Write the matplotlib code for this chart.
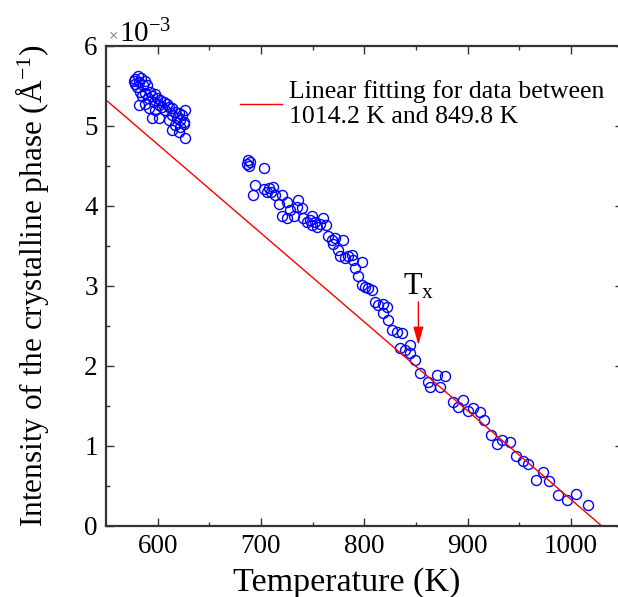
import matplotlib
matplotlib.use("Agg")
import matplotlib.pyplot as plt
import numpy as np

plt.rcParams["font.family"] = ["Liberation Serif", "DejaVu Serif"]
plt.rcParams["mathtext.default"] = "regular"

# measured points: temperature (K) and intensity (units of 1e-3 / Angstrom)
temp = [
    577.7, 581.0, 584.2, 587.4, 578.4, 582.2, 576.8, 585.5, 580.0, 589.7,
    583.2, 588.0, 592.9, 597.1, 584.8, 590.6, 594.5, 599.3, 602.6, 605.8,
    609.0, 604.2, 610.6, 613.8, 607.4, 600.9, 596.1, 588.0, 581.6, 591.3,
    597.7, 617.1, 620.3, 623.5, 626.7, 613.8, 618.7, 621.9, 625.1, 594.5,
    600.9, 617.1, 621.9, 625.1, 613.8, 620.3, 626.1, 610.6,
    687.3, 689.6, 686.3, 688.6, 702.5, 694.4, 691.8, 703.4, 707.3, 711.2,
    705.7, 709.9, 713.7, 720.2, 717.0, 725.0, 728.2, 736.3, 734.7, 739.5,
    720.2, 725.0, 731.5, 741.1, 744.4, 747.6, 749.2,
    749.2, 752.4, 754.0, 757.2, 760.5, 763.0, 765.3, 768.5, 771.8, 779.2,
    770.1, 775.0, 776.6, 781.4, 784.6, 787.9, 789.5, 791.1, 797.5, 794.3,
    797.5, 800.7, 804.0, 807.2, 810.4, 813.6, 818.5, 821.7, 818.5, 823.3,
    826.5, 831.4, 836.2, 834.6, 839.4, 844.3,
    844.3, 849.1, 854.0, 861.7, 863.6, 870.4, 873.3, 878.1,
    885.7, 895.5, 890.2, 900.0, 905.2, 911.7, 916.2, 922.8, 928.0, 933.6,
    941.0, 946.6, 953.1, 958.6, 966.2, 972.6, 979.1, 987.9, 996.4, 1005.2,
    1016.0,
]
intensity = [
    5.59, 5.62, 5.60, 5.56, 5.53, 5.55, 5.56, 5.51, 5.49, 5.51,
    5.43, 5.41, 5.43, 5.40, 5.37, 5.35, 5.37, 5.35, 5.33, 5.30,
    5.28, 5.24, 5.24, 5.22, 5.20, 5.26, 5.30, 5.28, 5.26, 5.22,
    5.20, 5.18, 5.16, 5.14, 5.20, 5.14, 5.10, 5.08, 5.05, 5.10,
    5.10, 5.01, 4.99, 5.02, 4.95, 4.93, 4.85, 5.08,
    4.58, 4.55, 4.53, 4.50, 4.47, 4.26, 4.14, 4.21, 4.22, 4.24,
    4.18, 4.17, 4.14, 4.14, 4.03, 4.05, 3.95, 4.08, 3.99, 3.97,
    3.87, 3.85, 3.87, 3.85, 3.80, 3.83, 3.76,
    3.87, 3.80, 3.74, 3.78, 3.85, 3.76, 3.62, 3.58, 3.60, 3.58,
    3.53, 3.45, 3.37, 3.35, 3.37, 3.39, 3.32, 3.22, 3.30, 3.12,
    3.01, 2.99, 2.97, 2.95, 2.80, 2.76, 2.78, 2.74, 2.66, 2.58,
    2.45, 2.43, 2.41, 2.22, 2.20, 2.26,
    2.16, 2.08, 1.91, 1.80, 1.74, 1.89, 1.74, 1.875,
    1.55, 1.58, 1.49, 1.44, 1.47, 1.425, 1.32, 1.14, 1.025, 1.08,
    1.055, 0.88, 0.81, 0.77, 0.57, 0.67, 0.56, 0.39, 0.33, 0.40,
    0.26,
]

# linear fit (intensity = intercept + slope * T)
fit_slope = -0.0111
fit_intercept = 11.43
fit_label = "Linear fitting for data between\n1014.2 K and 849.8 K"

# Tx marker
tx_temp = 852.3
tx_arrow_top = 2.80
tx_arrow_tip = 2.26
tx_text_y = 2.89

xlim = (550, 1050)
ylim = (0, 6)

fig = plt.figure(figsize=(6.18, 5.97), dpi=100)
ax = fig.add_axes([0.1715, 0.119, 0.836, 0.804])

ax.plot(temp, intensity, "o", ls="none", ms=7.2, mfc="none", mec="#0000ff", mew=1.0)

fx = np.array(xlim, dtype=float)
(fit_line,) = ax.plot(fx, fit_intercept + fit_slope * fx, color="red", lw=1.0)

ax.annotate("", xy=(tx_temp, tx_arrow_tip), xytext=(tx_temp, tx_arrow_top),
            arrowprops=dict(arrowstyle="-|>,head_length=0.55,head_width=0.15",
                            color="red", lw=1.0, mutation_scale=20,
                            shrinkA=0, shrinkB=0))
ax.text(tx_temp, tx_text_y, r"T$_{x}$", ha="center", va="baseline", fontsize=22)

ax.set_xlim(*xlim)
ax.set_ylim(*ylim)
ax.set_xticks([600, 700, 800, 900, 1000])
ax.set_xticks([650, 750, 850, 950], minor=True)
ax.set_yticks([0, 1, 2, 3, 4, 5, 6])
ax.set_yticks(np.arange(0.5, 6, 1.0), minor=True)
ax.tick_params(which="both", direction="in", top=True, right=True,
               labelsize=19.5, width=1.0, color="#333333")
ax.tick_params(which="major", length=6, pad=6)
ax.tick_params(which="minor", length=3)
for s in ax.spines.values():
    s.set_linewidth(1.6)
    s.set_color("#333333")

ax.set_xlabel("Temperature (K)", fontsize=24.5, labelpad=3)
ax.xaxis.set_label_coords(0.465, -0.085)
ax.set_ylabel(r"Intensity of the crystalline phase (Å$^{-1}$)", fontsize=22.5, labelpad=24)

fig.text(109 / 618, 1 - 40 / 597, "×", fontsize=12, color="#7a6a5a", va="baseline")
fig.text(119 / 618, 1 - 42 / 597, r"10$^{-3}$", fontsize=21, va="baseline")

fig.legend([fit_line], [fit_label], loc="center left", frameon=False,
           bbox_to_anchor=(240 / 618, 1 - 104 / 597), borderpad=0, borderaxespad=0,
           handlelength=1.63, handletextpad=0.27, fontsize=18.5, labelspacing=0)

fig.savefig("out.png", dpi=100)
